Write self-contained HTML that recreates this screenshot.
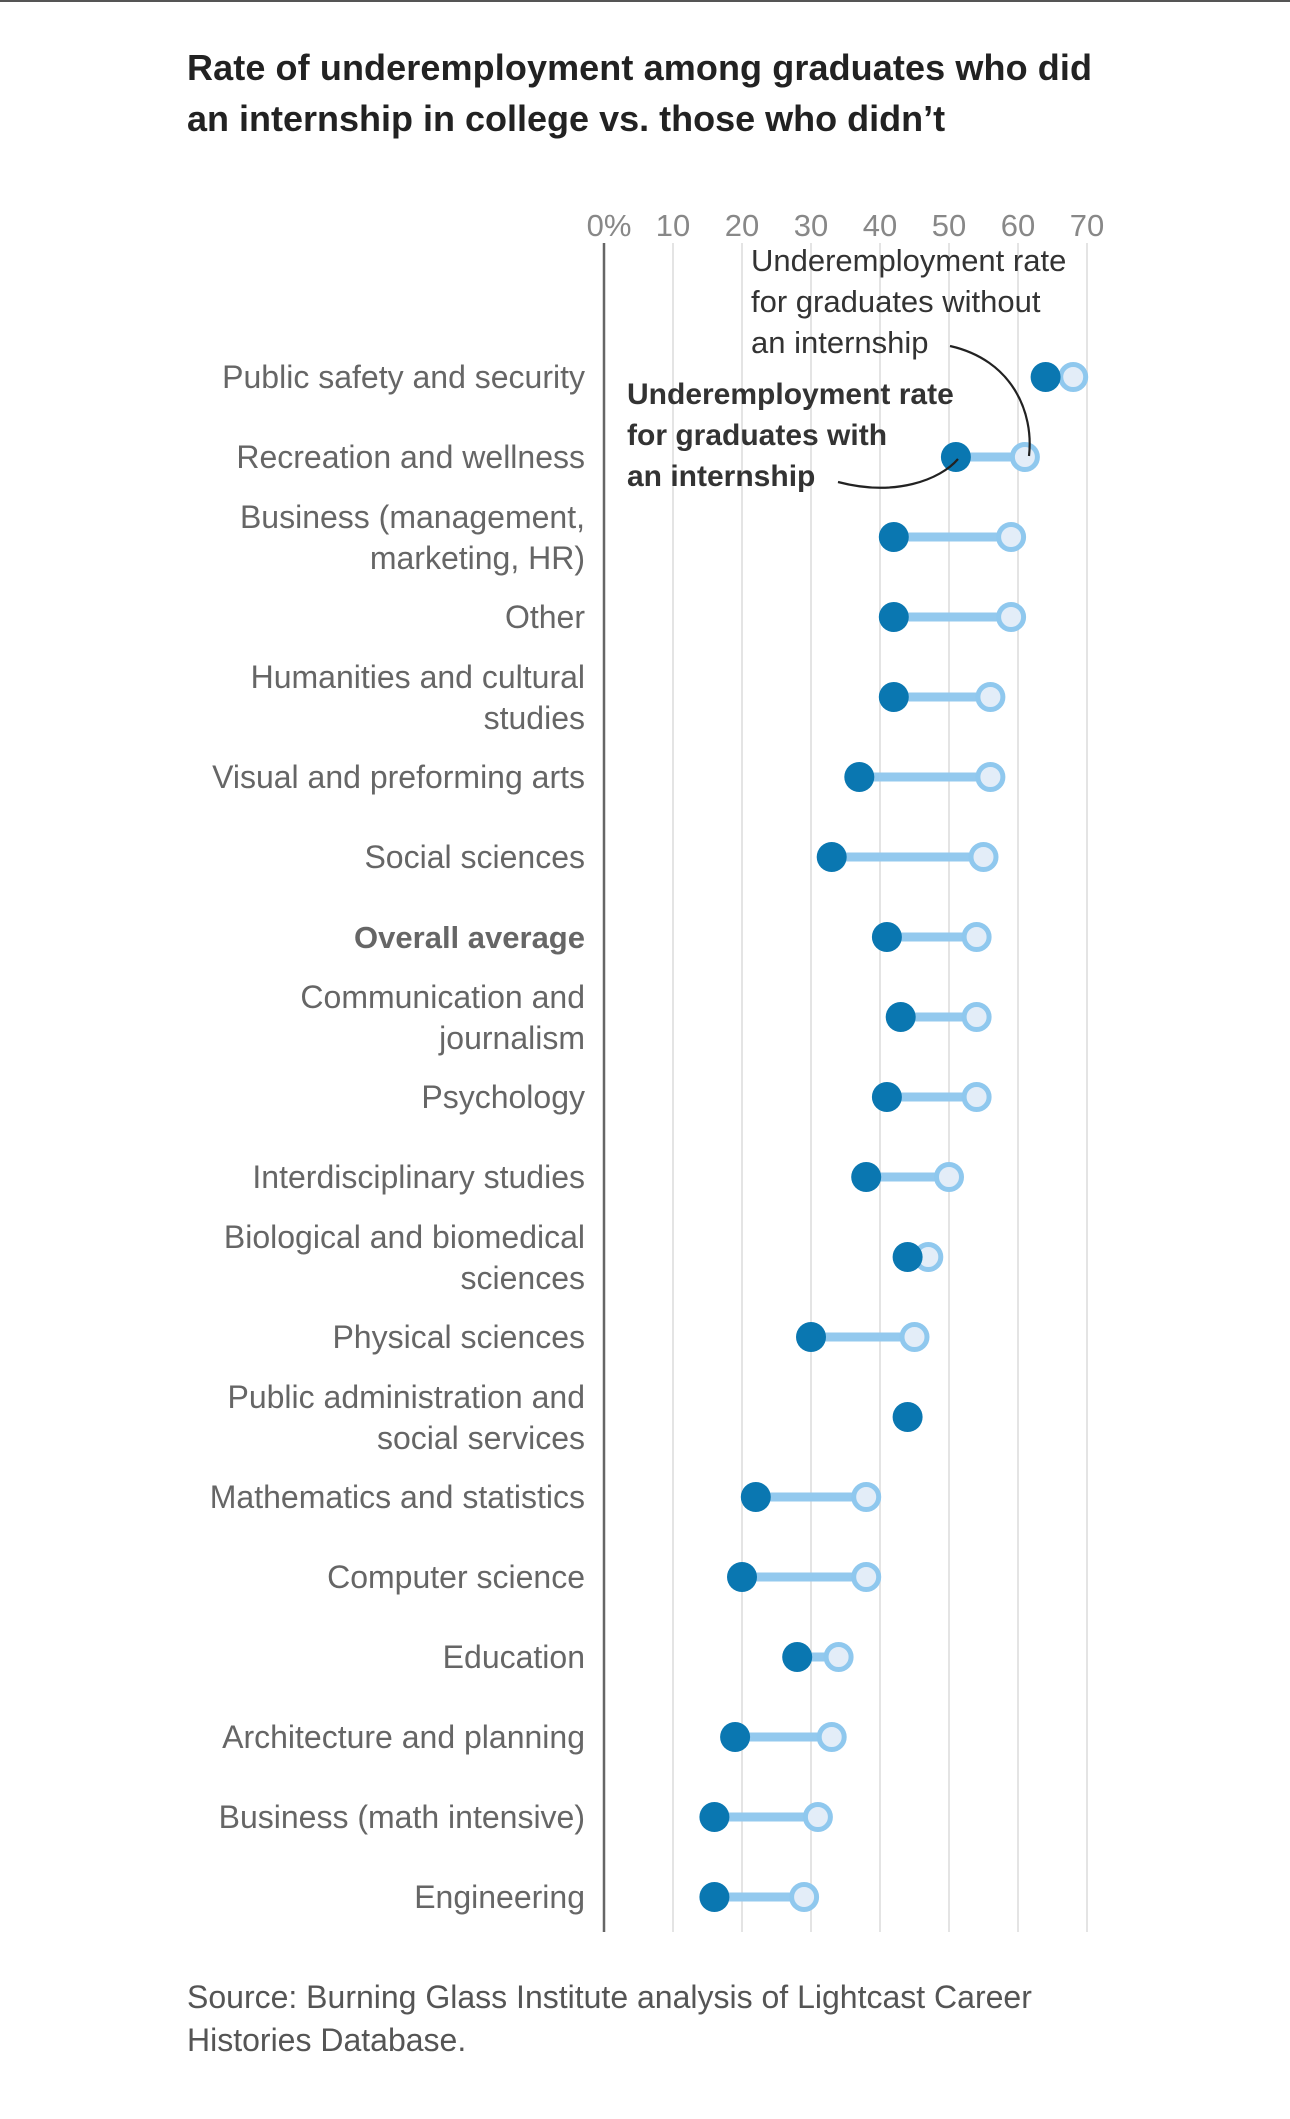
<!DOCTYPE html>
<html><head><meta charset="utf-8">
<style>
html,body{margin:0;padding:0;background:#fff;}
body{width:1290px;height:2114px;overflow:hidden;font-family:"Liberation Sans",sans-serif;}
svg text{font-family:"Liberation Sans",sans-serif;}
</style></head>
<body>
<svg id="chart" width="1290" height="2114" viewBox="0 0 1290 2114" xmlns="http://www.w3.org/2000/svg">
<rect x="0" y="0" width="1290" height="2" fill="#555"/>
<text x="187" y="80" font-size="36" font-weight="bold" fill="#222" textLength="905">Rate of underemployment among graduates who did</text>
<text x="187" y="131" font-size="36" font-weight="bold" fill="#222">an internship in college vs. those who didn’t</text>
<g id="grid"></g>
<g id="ticks"></g>
<line x1="604" y1="243" x2="604" y2="1932" stroke="#666" stroke-width="2.5"/>
<g id="labels"></g>
<g id="marks"></g>
<g>
<text x="751" y="271" font-size="31" fill="#333">Underemployment rate</text>
<text x="751" y="312" font-size="31" fill="#333">for graduates without</text>
<text x="751" y="353" font-size="31" fill="#333">an internship</text>
<path d="M950,346 C1012,360 1034,412 1029,456" fill="none" stroke="#222" stroke-width="2.2"/>
</g>
<g>
<text x="627" y="404" font-size="30" font-weight="bold" fill="#333">Underemployment rate</text>
<text x="627" y="445" font-size="30" font-weight="bold" fill="#333">for graduates with</text>
<text x="627" y="486" font-size="30" font-weight="bold" fill="#333">an internship</text>
<path d="M838,482 C895,497 940,480 958,459" fill="none" stroke="#222" stroke-width="2.2"/>
</g>
<text x="187" y="2008" font-size="32" fill="#555">Source: Burning Glass Institute analysis of Lightcast Career</text>
<text x="187" y="2051" font-size="32" fill="#555">Histories Database.</text>
</svg>
<script>
const categories = ["Public safety and security","Recreation and wellness","Business (management,|marketing, HR)","Other","Humanities and cultural|studies","Visual and preforming arts","Social sciences","Overall average","Communication and|journalism","Psychology","Interdisciplinary studies","Biological and biomedical|sciences","Physical sciences","Public administration and|social services","Mathematics and statistics","Computer science","Education","Architecture and planning","Business (math intensive)","Engineering"];
const withInternship = [64,51,42,42,42,37,33,41,43,41,38,44,30,44,22,20,28,19,16,16];
const withoutInternship = [68,61,59,59,56,56,55,54,54,54,50,47,45,null,38,38,34,33,31,29];
const tickValues = [0,10,20,30,40,50,60,70];
const tickLabels = ["0%","10","20","30","40","50","60","70"];

const NS = "http://www.w3.org/2000/svg";
const x = v => 604 + v * 6.9;
const y = i => 377 + i * 80;
function mk(tag, attrs, parent){const e=document.createElementNS(NS,tag);for(const k in attrs)e.setAttribute(k,attrs[k]);parent.appendChild(e);return e;}

const grid = document.getElementById('grid');
const ticks = document.getElementById('ticks');
tickValues.forEach((t,i)=>{
  if(t>0){
    const l = mk('line',{x1:x(t),x2:x(t),y1:243,y2:1932,stroke:'#e4e4e4','stroke-width':2},grid);
    
    
  }
  const tx = mk('text',{x:x(t)+(t===0?5:0),y:236,'font-size':31,fill:'#888','text-anchor':'middle'},ticks);
  tx.textContent = tickLabels[i];
  
  
});

const labels = document.getElementById('labels');
const marks = document.getElementById('marks');
categories.forEach((c,i)=>{
  const parts = c.split('|');
  const cy = y(i);
  parts.forEach((p,j)=>{
    const off = parts.length===1 ? 11 : (j===0 ? -9 : 32);
    const t = mk('text',{x:585,y:cy+off,'font-size':32,fill:'#666','text-anchor':'end'},labels);
    if(c==="Overall average"){t.setAttribute('font-weight','bold');t.setAttribute('font-size','31');}
    t.textContent = p;
    
    
  });
  const w = withInternship[i], wo = withoutInternship[i];
  if(wo!==null){
    const ln = mk('line',{x1:x(w),x2:x(wo),y1:cy,y2:cy,stroke:'#93c9ee','stroke-width':9},marks);
    
    
    const o = mk('circle',{cx:x(wo),cy:cy,r:12.5,fill:'#e3edf8',stroke:'#8fc8ee','stroke-width':5},marks);
    
    
  }
  const d = mk('circle',{cx:x(w),cy:cy,r:15,fill:'#0a77b1'},marks);
  
  
});
</script>
</body></html>
